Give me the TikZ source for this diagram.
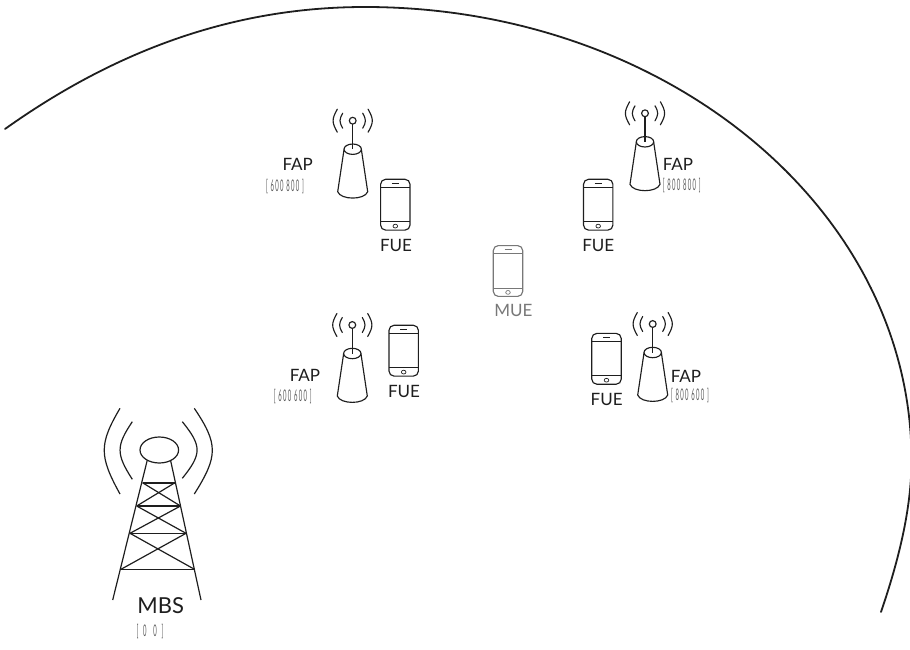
\documentclass[tikz,border=0pt]{standalone}
\usepackage{fontspec}
\usepackage{tikz}
\usepackage{xcolor}
\setmainfont{Lato}
\definecolor{hnink}{RGB}{30,30,30}
\definecolor{hngray}{RGB}{120,120,120}
\definecolor{hnsmall}{RGB}{90,90,90}
\tikzset{
  hnline/.style={draw=hnink, line width=1.2pt},
  hnlabel/.style={inner sep=0pt, text=hnink, font=\fontsize{17}{18}\selectfont},
  hncoord/.style={inner sep=0pt, text=hnsmall, xscale=.37, font=\fontsize{16}{16}\selectfont\addfontfeature{LetterSpace=22}},
  hnwave/.style={line width=1.15pt, line cap=round},
  fapicon/.pic={
    \draw[line width=1.15pt] (0,0) circle (3.4);
    \draw[line width=1.15pt] (0,3.4) -- (0,28.5);
    \draw[hnwave] (-10,-7.5) .. controls (-13.6,-1) and (-13.6,1) .. (-10,7.5);
    \draw[hnwave] (10,-7.5) .. controls (13.6,-1) and (13.6,1) .. (10,7.5);
    \draw[hnwave] (-15.4,-11.5) .. controls (-21,-1.5) and (-21,1.5) .. (-15.4,11.5);
    \draw[hnwave] (15.4,-11.5) .. controls (21,-1.5) and (21,1.5) .. (15.4,11.5);
    \draw[line width=1.15pt] (0,28.5) ellipse (8.7 and 5.2);
    \draw[line width=1.15pt] (-8.7,29) -- (-15,71) .. controls (-12,79.5) and (12,79.5) .. (15,71) -- (8.7,29);
  },
  phoneicon/.pic={
    \draw[line width=1.15pt, rounded corners=5pt] (-14.7,-25.4) rectangle (14.7,25.4);
    \draw[line width=1pt] (-14.7,-17.3) -- (14.7,-17.3);
    \draw[line width=1pt] (-14.7,17) -- (14.7,17);
    \draw[line width=.7pt] (-3.5,-21.4) -- (3.5,-21.4);
    \draw[line width=.7pt] (0,21.4) ellipse (2.3 and 1.9);
  }
}
\begin{document}
\begin{tikzpicture}[x=1pt, y=-1pt]
  \clip (0,0) rectangle (910,650);
  \useasboundingbox (0,0) rectangle (910,650);
  \draw[line width=1.8pt, draw=hnink, line cap=round] (5,129) .. controls (130,40) and (250,7) .. (365,7) .. controls (665,7) and (911.5,208) .. (911.5,460) .. controls (911.5,510) and (898,562) .. (881,612);

  \pic[color=hnink] (fapul) at (352.7,120.7) {fapicon};
  \pic[color=hnink] (fapur) at (645,113.3) {fapicon};
  \pic[color=hnink] (fapll) at (352.3,325) {fapicon};
  \pic[color=hnink] (faplr) at (652.7,324) {fapicon};

  \pic[color=hnink] (fueul) at (395.3,204.7) {phoneicon};
  \pic[color=hnink] (fueur) at (598.2,204.7) {phoneicon};
  \pic[color=hnink] (fuell) at (403.7,350.7) {phoneicon};
  \pic[color=hnink] (fuelr) at (606.5,358.8) {phoneicon};
  \pic[color=hngray] (mue) at (508,271) {phoneicon};

  \node[hnlabel] (fapultext) at (297.7,164.3) {FAP};
  \node[hnlabel] (fapurtext) at (678,164) {FAP};
  \node[hnlabel] (faplltext) at (305,375.7) {FAP};
  \node[hnlabel] (faplrtext) at (686,376.7) {FAP};
  \node[hnlabel] (fueultext) at (396,245.7) {FUE};
  \node[hnlabel] (fueurtext) at (598.3,245) {FUE};
  \node[hnlabel] (fuelltext) at (404,391) {FUE};
  \node[hnlabel] (fuelrtext) at (606.7,399.3) {FUE};
  \node[hnlabel, text=hngray] (muetext) at (513.3,310) {MUE};
  \node[hnlabel, font=\fontsize{22}{24}\selectfont] (mbstext) at (160.7,605.7) {MBS};

  \node[hncoord] (fapulpos) at (285,186.7) {[ 600 800 ]};
  \node[hncoord] (fapurpos) at (681.7,185.7) {[ 800 800 ]};
  \node[hncoord] (fapllpos) at (292.7,396.7) {[ 600 600 ]};
  \node[hncoord] (faplrpos) at (690,395.7) {[ 800 600 ]};
  \node[hncoord] (mbspos) at (150,632) {[ \,\,0\,\, \,\,0\,\, ]};

  \draw[hnline] (159.3,450) ellipse (19.3 and 13);
  \draw[hnline] (147.3,460) -- (112.7,600);
  \draw[hnline] (170.5,460) -- (201,600);
  \foreach \yb/\xl/\xr in {482.7/142.5/175, 506/136.7/180.5, 533.3/130/186, 569.3/121/194.5}
    \draw[line width=1.6pt, draw=hnink] (\xl,\yb) -- (\xr,\yb);
  \draw[hnline] (142.5,482.7) -- (180.5,506);
  \draw[hnline] (175,482.7) -- (136.7,506);
  \draw[hnline] (136.7,506) -- (186,533.3);
  \draw[hnline] (180.5,506) -- (130,533.3);
  \draw[hnline] (130,533.3) -- (194.5,569.3);
  \draw[hnline] (186,533.3) -- (121,569.3);
  \draw[hnline] (132.3,421.7) .. controls (116,446) and (116,454) .. (132.3,479.3);
  \draw[hnline] (120,408.3) .. controls (99,444) and (99,456) .. (120,494);
  \draw[hnline] (182.3,421.7) .. controls (202,446) and (202,454) .. (182.3,478.3);
  \draw[hnline] (194.3,408.3) .. controls (218.3,444) and (218.3,456) .. (194.3,494);
\end{tikzpicture}
\end{document}
